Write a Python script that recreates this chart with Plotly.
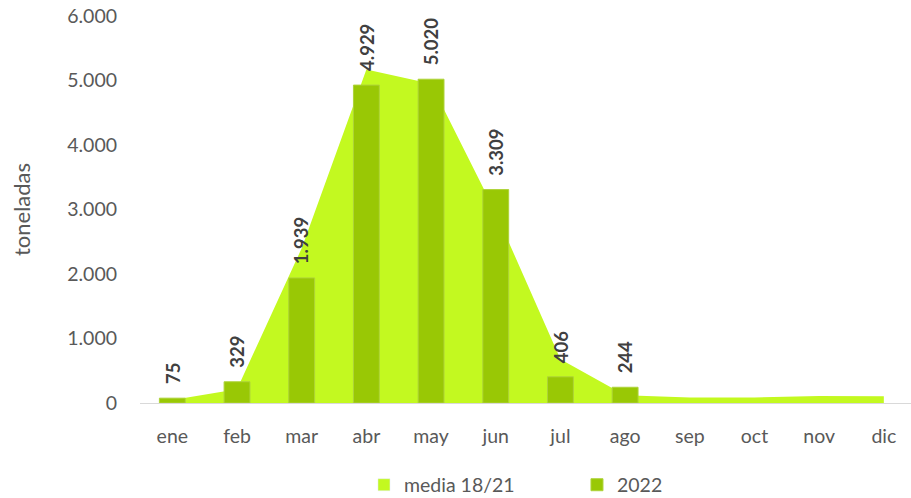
import plotly.graph_objects as go

FONT = "Lato, 'Open Sans', sans-serif"
GREY = "#595959"

months = ["ene", "feb", "mar", "abr", "may", "jun", "jul", "ago", "sep", "oct", "nov", "dic"]
media_18_21 = [45, 215, 2400, 5170, 4950, 2950, 680, 120, 85, 85, 110, 105]
y2022 = [75, 329, 1939, 4929, 5020, 3309, 406, 244, None, None, None, None]

AREA_COLOR = "#C3F920"
BAR_COLOR = "#99C805"

X_RANGE = [-0.5, 11.42]
Y_RANGE = [0, 6000]

fig = go.Figure()

# Media 18/21 as a filled area (base axes, drawn underneath)
fig.add_trace(go.Scatter(
    x=months, y=media_18_21,
    name="media 18/21",
    mode="none",
    fill="tozeroy",
    fillcolor=AREA_COLOR,
    showlegend=False,
    hoverinfo="skip",
))

# 2022 bars on overlaying axes so they sit on top of the area
fig.add_trace(go.Bar(
    x=months, y=y2022,
    name="2022",
    xaxis="x2", yaxis="y2",
    width=0.4,
    legendrank=2,
    marker=dict(color=BAR_COLOR, line=dict(color="#AED33A", width=1)),
    hovertemplate="%{x}: %{y:,d}<extra></extra>",
))

# square legend swatch for the area (legend only)
fig.add_trace(go.Bar(
    x=[months[0]], y=[None],
    name="media 18/21",
    xaxis="x2", yaxis="y2",
    legendrank=1,
    marker=dict(color=AREA_COLOR),
    hoverinfo="skip",
))

# rotated value labels above the bars
for m, v in zip(months, y2022):
    if v is None:
        continue
    fig.add_annotation(
        x=m, y=v, xref="x2", yref="y2",
        text=f"{v:,}".replace(",", "."),
        textangle=-90,
        showarrow=False,
        xanchor="center", yanchor="bottom",
        yshift=12,
        font=dict(family=FONT, size=18.5, color="#404040", weight="bold"),
    )

fig.update_layout(
    width=911, height=498,
    separators=",.",
    paper_bgcolor="white",
    plot_bgcolor="white",
    font=dict(family=FONT, color=GREY, size=19.5),
    margin=dict(l=140, r=0, t=16, b=95, autoexpand=False),
    showlegend=True,
    barmode="overlay",
    legend=dict(
        orientation="h",
        x=0.2905, xanchor="left",
        y=-0.212, yanchor="middle",
        entrywidth=168,
        font=dict(family=FONT, size=19.5, color=GREY),
        bgcolor="rgba(0,0,0,0)",
    ),
    xaxis=dict(
        type="category",
        categoryorder="array", categoryarray=months,
        range=X_RANGE,
        showgrid=False,
        showline=True, linecolor="#D9D9D9", linewidth=1,
        ticks="",
        ticklabelstandoff=16,
        tickfont=dict(family=FONT, size=19.5, color=GREY),
        automargin=False,
    ),
    yaxis=dict(
        type="linear",
        range=Y_RANGE,
        dtick=1000,
        tickformat=",d",
        showgrid=False,
        zeroline=False,
        showline=False,
        ticks="",
        ticklabelstandoff=22,
        ticklabeloverflow="allow",
        tickfont=dict(family=FONT, size=19.5, color=GREY),
        title=dict(text="toneladas", font=dict(family=FONT, size=22, color=GREY), standoff=30),
        automargin=False,
    ),
    xaxis2=dict(
        type="category",
        categoryorder="array", categoryarray=months,
        overlaying="x", range=X_RANGE,
        visible=False, showgrid=False,
    ),
    yaxis2=dict(
        type="linear",
        overlaying="y", range=Y_RANGE,
        visible=False, showgrid=False, zeroline=False,
    ),
)

# drop the default page margin so the figure fills the window exactly
fig.write_html(
    "out.html",
    config={"displayModeBar": False},
    post_script="document.body.style.margin='0';",
)
